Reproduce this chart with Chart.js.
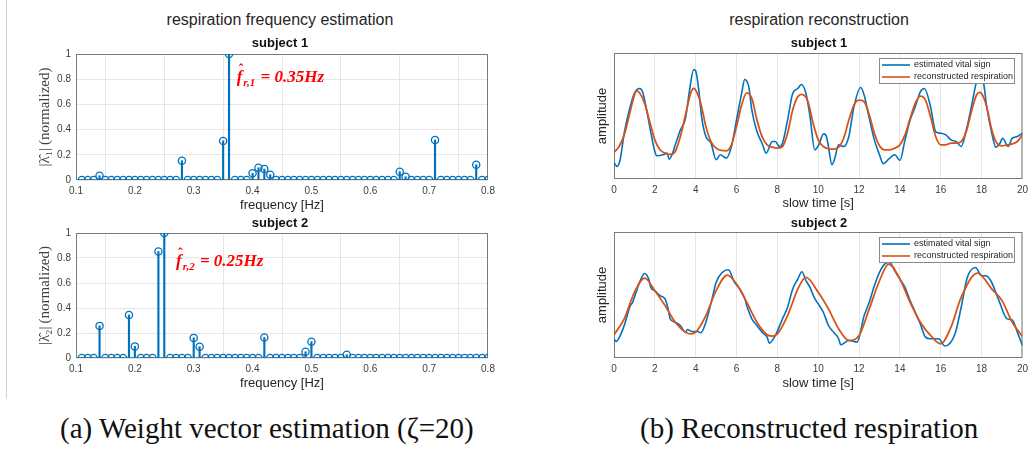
<!DOCTYPE html>
<html>
<head>
<meta charset="utf-8">
<script src="https://cdn.jsdelivr.net/npm/chart.js@4"></script>
<style>
  html, body { margin: 0; padding: 0; background: #fff; overflow: hidden; }
  body { width: 1030px; height: 450px; position: relative; font-family: 'Liberation Sans', Arial, sans-serif; color: #262626; }
  canvas { position: absolute; }
  .title { position: absolute; font-size: 16px; line-height: 16px; white-space: nowrap; transform: translateX(-50%); }
  .sub { position: absolute; font-size: 13px; font-weight: bold; line-height: 13px; white-space: nowrap; transform: translateX(-50%); color: #111; }
  .cap { position: absolute; font-family: 'Liberation Serif', serif; font-size: 29px; line-height: 29px; white-space: nowrap; color: #111; }
  #edge { position: absolute; left: 6px; top: 0; width: 1px; height: 399px; background: #d4d4d4; }
</style>
</head>
<body>
<div id="edge"></div>
<canvas id="c1" width="500" height="172" style="left:0;top:43px"></canvas>
<canvas id="c2" width="500" height="171" style="left:0;top:222px"></canvas>
<canvas id="c3" width="473" height="170" style="left:560px;top:43px"></canvas>
<canvas id="c4" width="473" height="171" style="left:560px;top:222px"></canvas>

<div class="title" style="left:280px;top:12px">respiration frequency estimation</div>
<div class="title" style="left:819px;top:12px">respiration reconstruction</div>
<div class="sub" style="left:280px;top:36px">subject 1</div>
<div class="sub" style="left:819px;top:36px">subject 1</div>
<div class="sub" style="left:280px;top:216px">subject 2</div>
<div class="sub" style="left:819px;top:216px">subject 2</div>
<div class="cap" style="left:60px;top:414px">(a) Weight vector estimation (ζ=20)</div>
<div class="cap" style="left:640px;top:414px">(b) Reconstructed respiration</div>

<script>
// frequency grid of the weight vectors (Hz)
const freqs = [
  0.11, 0.12, 0.13, 0.14, 0.15, 0.16, 0.17, 0.18, 0.19, 0.20,
  0.21, 0.22, 0.23, 0.24, 0.25, 0.26, 0.27, 0.28, 0.29, 0.30,
  0.31, 0.32, 0.33, 0.34, 0.35, 0.36, 0.37, 0.38, 0.39, 0.40,
  0.41, 0.42, 0.43, 0.44, 0.45, 0.46, 0.47, 0.48, 0.49, 0.50,
  0.51, 0.52, 0.53, 0.54, 0.55, 0.56, 0.57, 0.58, 0.59, 0.60,
  0.61, 0.62, 0.63, 0.64, 0.65, 0.66, 0.67, 0.68, 0.69, 0.70,
  0.71, 0.72, 0.73, 0.74, 0.75, 0.76, 0.77, 0.78, 0.79, 0.80
];
const weights1 = [
  0, 0, 0, 0.034, 0, 0, 0, 0, 0, 0,
  0, 0, 0, 0, 0, 0, 0, 0.153, 0, 0,
  0, 0, 0, 0, 0.31, 1.0, 0, 0, 0, 0.053,
  0.097, 0.087, 0.042, 0, 0, 0, 0, 0, 0, 0,
  0, 0, 0, 0, 0, 0, 0, 0, 0, 0,
  0, 0, 0, 0, 0.066, 0.026, 0, 0, 0, 0,
  0.318, 0, 0, 0, 0, 0, 0, 0.121, 0, 0
];
const weights2 = [
  0, 0, 0, 0.257, 0, 0, 0, 0, 0.344, 0.093,
  0, 0, 0, 0.852, 1.0, 0, 0, 0, 0, 0.161,
  0.09, 0, 0, 0, 0, 0, 0, 0, 0, 0,
  0, 0.164, 0, 0, 0, 0, 0, 0, 0.05, 0.13,
  0, 0, 0, 0, 0, 0.026, 0, 0, 0, 0,
  0, 0, 0, 0, 0, 0, 0, 0, 0, 0,
  0, 0, 0, 0, 0, 0, 0, 0, 0, 0
];

// subject 1 respiration (slow time in s, amplitude in arbitrary units)
const s1EstT = [0,0.15,0.3,0.5,0.75,1.0,1.25,1.4,1.6,1.75,2.0,2.1,2.4,2.6,2.7,2.9,3.0,3.25,3.5,3.7,3.9,4.0,4.15,4.3,4.5,4.75,5.0,5.2,5.5,5.75,6.0,6.25,6.4,6.6,6.75,7.0,7.25,7.45,7.75,7.9,8.1,8.25,8.5,8.75,9.0,9.17,9.4,9.6,9.83,10.0,10.27,10.4,10.5,10.67,10.8,11.0,11.25,11.5,11.75,12.08,12.25,12.5,12.75,13.0,13.19,13.5,13.75,14.0,14.25,14.5,14.75,15.0,15.2,15.5,15.75,16.0,16.25,16.5,16.75,17.0,17.25,17.5,17.75,17.9,18.1,18.25,18.5,18.7,18.9,19.03,19.3,19.5,19.75,20.0];
const s1EstV = [50,38,58,138,208,258,273,263,208,158,83,70,73,78,60,83,103,148,183,268,330,326,268,183,128,108,58,73,63,98,178,258,300,278,208,143,108,78,113,113,98,108,178,258,273,285,258,188,88,100,136,128,98,43,60,103,98,128,218,276,253,183,118,73,46,63,73,56,118,178,218,263,273,218,143,138,133,118,113,98,148,218,293,313,288,218,138,96,108,123,98,123,128,138];
const s1RecT = [0,0.25,0.5,0.75,1.0,1.1,1.25,1.5,1.75,2.0,2.25,2.5,2.75,3.0,3.25,3.5,3.75,3.9,4.0,4.25,4.5,4.75,5.0,5.25,5.5,5.75,6.0,6.25,6.5,6.75,7.0,7.25,7.5,7.75,8.0,8.25,8.5,8.75,9.0,9.2,9.5,9.75,10.0,10.25,10.5,10.75,11.0,11.25,11.5,11.75,12.0,12.25,12.5,12.75,13.0,13.25,13.5,13.75,14.0,14.25,14.5,14.75,15.0,15.25,15.5,15.75,16.0,16.25,16.5,16.75,17.0,17.25,17.5,17.75,17.9,18.0,18.25,18.5,18.75,19.0,19.25,19.5,19.75,20.0];
const s1RecV = [80,98,133,193,253,266,260,228,173,118,88,78,74,83,128,193,258,273,268,228,158,113,93,86,85,103,158,223,260,243,178,128,103,96,93,98,138,208,248,255,233,168,118,98,91,90,96,123,178,223,238,233,193,138,100,88,88,93,103,133,183,228,250,238,188,128,103,103,108,108,113,143,203,253,261,258,218,148,108,100,103,106,113,133];

// subject 2 respiration
const s2EstT = [0,0.1,0.5,0.8,0.9,1.0,1.25,1.5,1.7,1.8,2.0,2.25,2.5,2.65,2.75,3.0,3.25,3.5,3.6,3.8,4.1,4.25,4.5,4.8,5.0,5.3,5.6,5.9,6.1,6.4,6.5,6.75,7.0,7.25,7.5,7.6,7.9,8.25,8.5,8.75,9.0,9.2,9.4,9.6,9.8,10.0,10.25,10.5,10.75,11.0,11.1,11.5,11.9,12.25,12.5,12.75,13.0,13.25,13.5,13.75,14.0,14.25,14.5,14.75,15.0,15.25,15.5,15.9,16.2,16.7,17.0,17.3,17.7,18.0,18.2,18.45,18.85,19.25,19.5,19.75,20.0];
const s2EstV = [58,50,98,158,166,183,228,255,238,213,203,188,178,148,118,108,98,78,86,80,80,76,108,178,228,258,266,228,213,180,158,118,98,78,63,45,68,118,153,208,238,260,233,213,183,163,138,98,78,58,40,53,48,128,168,218,258,283,288,263,238,213,173,138,103,63,58,58,36,73,153,243,273,248,248,233,173,118,115,78,38];
const s2RecT = [0,0.5,1.0,1.5,2.0,2.5,3.0,3.5,3.75,4.0,4.5,5.0,5.55,6.0,6.5,7.0,7.5,7.75,8.0,8.5,9.0,9.4,10.0,10.5,11.0,11.5,12.0,12.5,13.0,13.45,14.0,14.5,15.0,15.5,16.0,16.5,17.0,17.8,18.5,19.0,19.5,20.0];
const s2RecV = [70,118,198,241,203,158,108,78,73,78,128,203,250,223,168,108,70,66,73,128,208,243,198,148,88,53,68,148,233,283,238,168,108,68,43,93,183,256,208,173,108,65];

const FONT = "'Liberation Sans', Arial, sans-serif";
const SERIF = "'Liberation Serif', 'DejaVu Serif', serif";
const BLUE = '#0072BD';
const ORANGE = '#D95319';
const GRID = '#e6e6e6';

Chart.defaults.font.family = FONT;
Chart.defaults.color = '#404040';
Chart.defaults.animation = false;

// full axes box like matlab
const boxPlugin = {
  id: 'box',
  beforeDatasetsDraw(chart) {
    const { ctx, chartArea: a } = chart;
    ctx.save();
    ctx.strokeStyle = '#7a7a7a';
    ctx.lineWidth = 1;
    ctx.strokeRect(a.left + 0.5, a.top + 0.5, a.right - a.left - 1, a.bottom - a.top - 1);
    ctx.restore();
  }
};

// red estimate label  f^_{r,k} = ...Hz
const estPlugin = {
  id: 'est',
  afterDatasetsDraw(chart, args, opts) {
    if (!opts || !opts.sub) return;
    const { ctx, scales: { x, y } } = chart;
    const px = x.getPixelForValue(opts.x);
    const py = y.getPixelForValue(opts.y);
    ctx.save();
    ctx.fillStyle = '#ff0000';
    ctx.textAlign = 'left';
    ctx.textBaseline = 'alphabetic';
    ctx.font = 'italic bold 17px ' + SERIF;
    ctx.fillText('f', px, py);
    const fw = ctx.measureText('f').width;
    ctx.font = 'bold 14px ' + SERIF;
    ctx.fillText('\u02C6', px + 2, py - 8);
    ctx.font = 'italic bold 11px ' + SERIF;
    ctx.fillText(opts.sub, px + fw + 1, py + 4);
    const sw = ctx.measureText(opts.sub).width;
    ctx.font = 'italic bold 17px ' + SERIF;
    ctx.fillText(' = ' + opts.text, px + fw + sw + 2, py);
    ctx.restore();
  }
};

// boxed legend inside the axes, top right
const legendBox = {
  id: 'legendBox',
  afterDraw(chart) {
    const { ctx, chartArea: a } = chart;
    const w = 135, h = 25;
    const bx = Math.round(a.right - 8 - w), by = Math.round(a.top + 5);
    ctx.save();
    ctx.fillStyle = '#fff';
    ctx.fillRect(bx, by, w, h);
    ctx.strokeStyle = '#8a8a8a';
    ctx.lineWidth = 1;
    ctx.strokeRect(bx + 0.5, by + 0.5, w, h);
    ctx.font = '9px ' + FONT;
    ctx.textBaseline = 'middle';
    ctx.textAlign = 'left';
    chart.data.datasets.forEach((ds, i) => {
      const yy = by + 7 + i * 12;
      ctx.strokeStyle = ds.borderColor;
      ctx.lineWidth = 1.6;
      ctx.beginPath();
      ctx.moveTo(bx + 3, yy);
      ctx.lineTo(bx + 31, yy);
      ctx.stroke();
      ctx.fillStyle = '#262626';
      ctx.fillText(ds.label, bx + 35, yy);
    });
    ctx.restore();
  }
};

function stemChart(id, weights, yLabel, ann) {
  const pts = freqs.map((f, i) => ({ x: f, y: weights[i] }));
  return new Chart(document.getElementById(id), {
    type: 'bar',
    data: {
      datasets: [
        {
          type: 'scatter',
          data: pts,
          pointRadius: 3.6,
          pointHoverRadius: 3.6,
          pointBorderWidth: 1.3,
          pointBorderColor: BLUE,
          pointBackgroundColor: 'rgba(255,255,255,0)',
          order: 0
        },
        {
          type: 'bar',
          data: pts,
          backgroundColor: BLUE,
          barThickness: 1.5,
          order: 1
        }
      ]
    },
    options: {
      responsive: false,
      animation: false,
      events: [],
      layout: { padding: { top: 10, right: 12, left: 0, bottom: 0 } },
      plugins: { legend: { display: false }, tooltip: { enabled: false }, est: ann },
      scales: {
        x: {
          type: 'linear', min: 0.1, max: 0.8, offset: false,
          ticks: { stepSize: 0.1, padding: 5, font: { size: 10 }, color: '#404040', callback: v => (+v).toFixed(1) },
          grid: { color: GRID, drawTicks: false },
          border: { display: false },
          title: { display: true, text: 'frequency [Hz]', font: { size: 13 }, color: '#262626', padding: { top: 0, bottom: 2 } },
          afterFit: s => { s.height = 35; }
        },
        y: {
          min: 0, max: 1,
          ticks: { stepSize: 0.2, padding: 5, font: { size: 10 }, color: '#404040', callback: v => String(+(+v).toFixed(1)) },
          grid: { color: GRID, drawTicks: false },
          border: { display: false },
          title: { display: true, text: yLabel, font: { family: SERIF, size: 15 }, color: '#404040', padding: { top: 36, bottom: 0 } },
          afterFit: s => { s.width = 76; }
        }
      }
    },
    plugins: [boxPlugin, estPlugin]
  });
}

function respChart(id, estT, estV, recT, recV, xH) {
  return new Chart(document.getElementById(id), {
    type: 'line',
    data: {
      datasets: [
        {
          label: 'estimated vital sign',
          data: estT.map((t, i) => ({ x: t, y: estV[i] })),
          borderColor: BLUE, borderWidth: 1.6, pointRadius: 0,
          cubicInterpolationMode: 'monotone', fill: false, order: 1
        },
        {
          label: 'reconstructed respiration',
          data: recT.map((t, i) => ({ x: t, y: recV[i] })),
          borderColor: ORANGE, borderWidth: 1.8, pointRadius: 0,
          cubicInterpolationMode: 'monotone', fill: false, order: 0
        }
      ]
    },
    options: {
      responsive: false,
      animation: false,
      events: [],
      layout: { padding: { top: 10, right: 8, left: 0, bottom: 0 } },
      plugins: { legend: { display: false }, tooltip: { enabled: false } },
      scales: {
        x: {
          type: 'linear', min: 0, max: 20,
          ticks: { stepSize: 2, padding: 5, font: { size: 10 }, color: '#404040' },
          grid: { color: GRID, drawTicks: false },
          border: { display: false },
          title: { display: true, text: 'slow time [s]', font: { size: 13 }, color: '#262626', padding: { top: 0, bottom: 2 } },
          afterFit: s => { s.height = xH; }
        },
        y: {
          min: 0, max: 380,
          ticks: { display: false },
          grid: { display: false },
          border: { display: false },
          title: { display: true, text: 'amplitude', font: { size: 13 }, color: '#262626', padding: { top: 35, bottom: 0 } },
          afterFit: s => { s.width = 54; }
        }
      }
    },
    plugins: [boxPlugin, legendBox]
  });
}

stemChart('c1', weights1, '|λ\u0302\u2081|\u2009(normalized)', { x: 0.373, y: 0.774, sub: 'r,1', text: '0.35Hz' });
stemChart('c2', weights2, '|λ\u0302\u2082|\u2009(normalized)', { x: 0.27, y: 0.738, sub: 'r,2', text: '0.25Hz' });
respChart('c3', s1EstT, s1EstV, s1RecT, s1RecV, 34);
respChart('c4', s2EstT, s2EstV, s2RecT, s2RecV, 35);
</script>
</body>
</html>
